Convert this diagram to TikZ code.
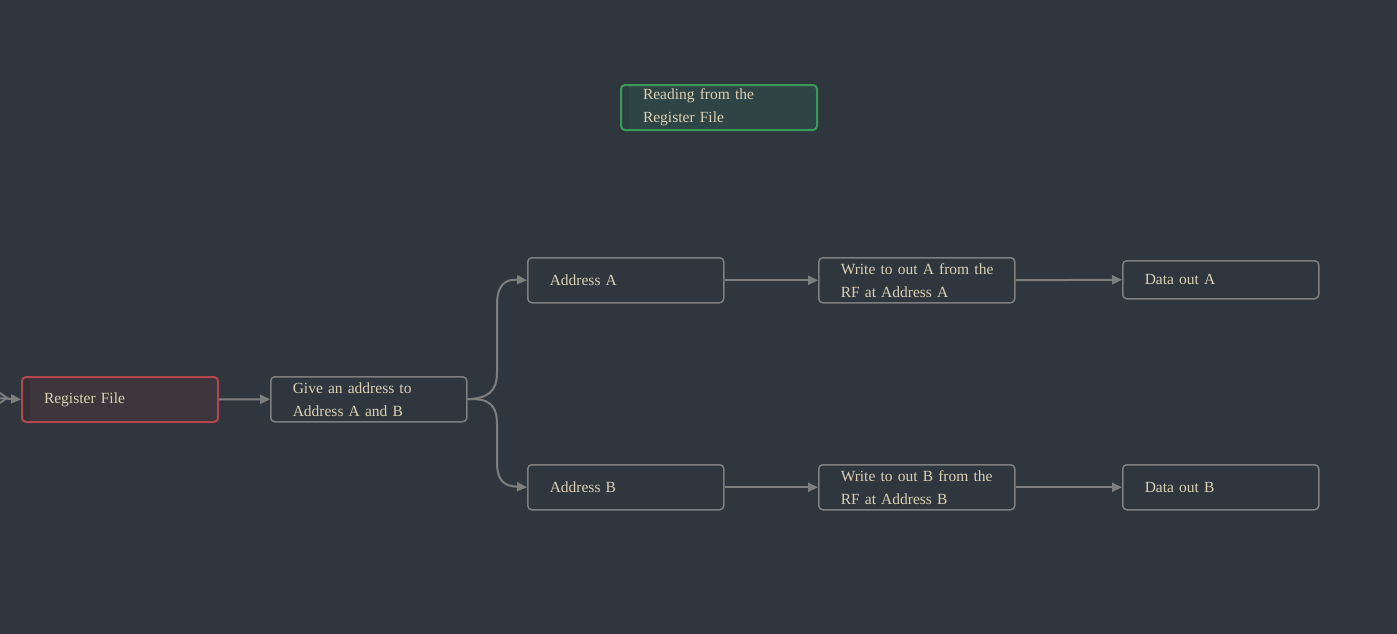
\documentclass[tikz,border=0pt]{standalone}
\usepackage{fontspec}
\setmainfont{Liberation Serif}
\usetikzlibrary{arrows.meta}
\definecolor{bg}{HTML}{2F363E}
\definecolor{txt}{HTML}{DCD0B4}
\definecolor{edge}{HTML}{7E7E7E}
\definecolor{redb}{HTML}{B3454D}
\definecolor{redf}{HTML}{3D363C}
\definecolor{reds}{HTML}{363037}
\definecolor{greenb}{HTML}{3A9A5A}
\definecolor{greenf}{HTML}{2F4444}
\definecolor{greens}{HTML}{2C3D3E}
\tikzset{
  box/.style={draw=edge, line width=1.5pt, fill=bg, rounded corners=4pt, anchor=north west,
    minimum width=196pt, minimum height=45pt, text width=196pt, inner xsep=0pt, inner ysep=0pt,
    align=left, text=txt, font=\fontsize{15.5}{23}\selectfont,
    execute at begin node={\leftskip=22pt\relax}},
  strip/.style={path picture={\fill[#1] (path picture bounding box.north west) rectangle ([xshift=8pt]path picture bounding box.south west);}},
  redbox/.style={box, draw=redb, fill=redf, line width=2pt, strip=reds},
  greenbox/.style={box, draw=greenb, fill=greenf, line width=2pt, strip=greens},
  conn/.style={draw=edge, line width=2pt, -{Triangle[length=10pt,width=9pt]}},
}
\begin{document}
\begin{tikzpicture}[x=1pt,y=-1pt]
\fill[bg] (0,0) rectangle (1397,634);
\useasboundingbox (0,0) rectangle (1397,634);
\node[greenbox] (read) at (620,84) {Reading from the\\Register File};
\node[redbox] (rf) at (21,376) {Register File};
\node[box] (give) at (270,376) {Give an address to\\Address A and B};
\node[box] (addra) at (527,257) {Address A};
\node[box] (addrb) at (527,464) {Address B};
\node[box] (wra) at (818,257) {Write to out A from the\\RF at Address A};
\node[box] (wrb) at (818,464) {Write to out B from the\\RF at Address B};
\node[box, minimum height=38pt] (outa) at (1122,260) {Data out A};
\node[box] (outb) at (1122,464) {Data out B};
\coordinate (in) at (-4,398);
\draw[conn] (in) -- (rf.west);
\draw[draw=edge, line width=2pt] (0,393) -- (7,398) -- (0,403);
\draw[conn] (rf.east) -- (give.west);
\draw[conn] (give.east) .. controls (488,398) and (497,392) .. (497,372) -- (497,305) .. controls (497,285) and (505,279) .. (addra.west);
\draw[conn] (give.east) .. controls (488,398) and (497,404) .. (497,424) -- (497,462) .. controls (497,482) and (505,486) .. (addrb.west);
\draw[conn] (addra.east) -- (wra.west);
\draw[conn] (addrb.east) -- (wrb.west);
\draw[conn] (wra.east) -- (outa.west);
\draw[conn] (wrb.east) -- (outb.west);
\end{tikzpicture}
\end{document}
